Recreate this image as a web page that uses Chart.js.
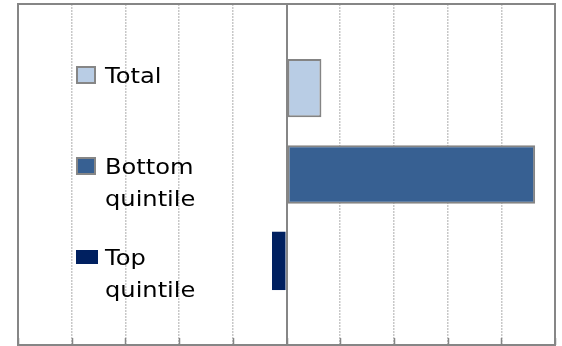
<!DOCTYPE html>
<html>
<head>
<meta charset="utf-8">
<script src="https://cdn.jsdelivr.net/npm/chart.js@4.4.1/dist/chart.umd.min.js"></script>
<style>
  html, body { margin: 0; padding: 0; background: #fff; }
  #wrap { width: 562px; height: 346px; }
</style>
</head>
<body>
<div id="wrap"><canvas id="grafico"></canvas></div>
<script>
// series, top to bottom
const series = ['Total', 'Bottom quintile', 'Top quintile'];
const legendLines = [['Total'], ['Bottom', 'quintile'], ['Top', 'quintile']];
const values = [0.65, 4.63, -0.27];
const fills = ['#b9cde5', '#376092', '#002060'];
const borders = ['#848484', '#848484', '#002060'];
const xMin = -5, xMax = 5, xStep = 1;

const gris = '#868686';

// plot frame plus the short tick marks along the bottom edge
const marco = {
  id: 'marco',
  afterDatasetsDraw(chart) {
    const { ctx, chartArea: a, scales } = chart;
    ctx.save();
    ctx.strokeStyle = gris;
    ctx.lineWidth = 2;
    ctx.strokeRect(a.left, a.top, a.right - a.left, a.bottom - a.top);
    ctx.lineWidth = 1.5;
    scales.x.ticks.forEach(t => {
      let px = Math.round(scales.x.getPixelForValue(t.value)) + 0.5;
      ctx.beginPath();
      ctx.moveTo(px, a.bottom);
      ctx.lineTo(px, a.bottom - 7);
      ctx.stroke();
    });
    ctx.restore();
  }
};

// legend sits inside the plot, on the left
const leyenda = {
  id: 'leyenda',
  afterDraw(chart) {
    const { ctx } = chart;
    const filas = [75, 166, 257];
    ctx.save();
    filas.forEach((y, i) => {
      if (i === 2) {
        ctx.fillStyle = fills[i];
        ctx.fillRect(76, y - 7, 22, 14);
      } else {
        ctx.fillStyle = fills[i];
        ctx.fillRect(77, y - 8, 18, 16);
        ctx.strokeStyle = gris;
        ctx.lineWidth = 2;
        ctx.strokeRect(77, y - 8, 18, 16);
      }
      ctx.save();
      ctx.translate(105, 0);
      ctx.scale(1.15, 1);   // wide lettering
      ctx.font = '21px "DejaVu Sans"';
      ctx.fillStyle = '#000';
      ctx.textBaseline = 'alphabetic';
      legendLines[i].forEach((txt, j) => {
        ctx.fillText(txt, 0, y + 8 + j * 32);
      });
      ctx.restore();
    });
    ctx.restore();
  }
};

new Chart(document.getElementById('grafico'), {
  type: 'bar',
  data: {
    labels: [''],
    datasets: series.map((s, i) => ({
      label: s,
      data: [values[i]],
      backgroundColor: fills[i],
      borderColor: borders[i],
      borderWidth: i === 2 ? 0 : 2,
      borderSkipped: false,
      categoryPercentage: 0.76,
      barPercentage: 0.675
    }))
  },
  options: {
    indexAxis: 'y',
    responsive: true,
    maintainAspectRatio: false,
    animation: false,
    layout: { padding: { left: 18, top: 4, right: 7, bottom: 1 } },
    plugins: {
      legend: { display: false },
      tooltip: { enabled: false }
    },
    scales: {
      x: {
        min: xMin,
        max: xMax,
        ticks: { display: false, stepSize: xStep },
        grid: {
          drawTicks: false,
          color: c => c.tick.value === 0 ? gris :
            (c.tick.value === xMin || c.tick.value === xMax ? 'rgba(0,0,0,0)' : '#c8c8c8'),
          lineWidth: c => c.tick.value === 0 ? 2 : 1.5
        },
        border: {
          display: false,
          dash: c => c.tick && c.tick.value === 0 ? [] : [2, 1]
        }
      },
      y: {
        ticks: { display: false },
        grid: { display: false, drawTicks: false },
        border: { display: false }
      }
    }
  },
  plugins: [marco, leyenda]
});
</script>
</body>
</html>
